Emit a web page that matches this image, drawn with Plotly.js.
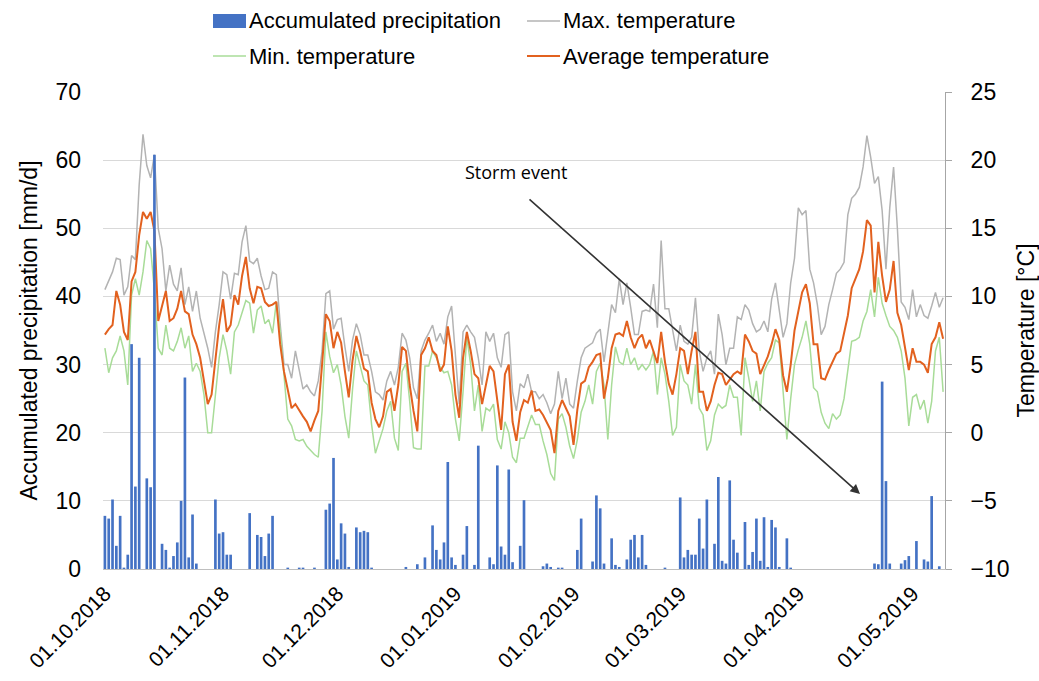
<!DOCTYPE html>
<html>
<head>
<meta charset="utf-8">
<script src="https://cdn.plot.ly/plotly-3.0.1.min.js"></script>
<style>html,body{margin:0;padding:0;background:#fff;}#chart{width:1039px;height:681px;}</style>
</head>
<body>
<div id="chart"></div>
<script>
// Daily series starting 01.10.2018
const startDate = '2018-10-01';

const precipitation = [
  7.8, 7.4, 10.2, 3.4, 7.8, 0.2, 2.1, 33, 12.1, 31,
  0, 13.3, 12, 60.8, 0, 3.7, 2.8, 0.2, 1.9, 3.9,
  10, 28.1, 1.7, 8, 0.8, 0, 0, 0, 0, 10.2,
  5.2, 5.4, 2.1, 2.1, 0, 0, 0, 0, 8.2, 0,
  5, 4.7, 1.9, 5.2, 7.8, 0, 0, 0, 0.2, 0,
  0, 0.2, 0.2, 0, 0, 0.2, 0, 0, 8.7, 9.6,
  16.3, 1.4, 6.7, 5.2, 0.3, 0, 6.1, 5.4, 5.6, 5.4,
  0.2, 0, 0, 0, 0, 0, 0, 0, 0, 0.3,
  0, 0, 0.7, 0, 1.7, 0, 6.4, 2.8, 1.4, 3.9,
  15.7, 1.7, 0.6, 0, 2.1, 6.3, 0, 0.6, 18.1, 0,
  0, 1.7, 0.7, 15.2, 3.3, 2.1, 14.6, 1, 0, 3.4,
  10.1, 0, 0, 0, 0, 0.4, 0.8, 0.3, 0, 0.2,
  0.2, 0, 0, 0, 2.8, 7.4, 0, 0, 1.1, 10.8,
  8.9, 0.8, 0, 4.5, 0.6, 0.3, 0, 1.4, 4.3, 5,
  1.7, 5, 0.6, 0, 0, 0, 0, 0.2, 0, 0,
  0, 10.5, 1.7, 2.8, 2.1, 2.1, 7.4, 3, 10.2, 0,
  3.7, 13.5, 1.2, 0.8, 13, 4.3, 2.4, 0, 6.9, 0.6,
  2.5, 7.4, 1.2, 7.6, 0.3, 7.2, 6.1, 0.3, 0, 4.5,
  0.2, 0, 0, 0, 0, 0, 0, 0, 0, 0,
  0, 0, 0, 0, 0, 0, 0, 0, 0, 0,
  0, 0, 0.8, 0.7, 27.5, 12.9, 0.8, 0, 0, 0.8,
  1.3, 1.9, 0, 4.1, 0, 1.4, 1.1, 10.7, 0, 0.4,
  0
];

const maxTemperature = [
  10.5, 11.1, 11.8, 12.8, 12.7, 10.1, 10.7, 13, 12.7, 18.2,
  21.9, 19.6, 18.7, 20.4, 15, 13.5, 10.4, 12.3, 10.9, 10.4,
  12.1, 9.4, 10.7, 8.9, 10.4, 8.4, 7.4, 6.2, 4.8, 7.4,
  9.4, 11.8, 11.6, 9.8, 11.7, 11.6, 14, 15.2, 12.6, 12.4,
  12.8, 11.5, 10.5, 10.6, 11.8, 11.6, 8, 5, 5, 4,
  6, 4.5, 3.2, 3.5, 3, 2.7, 3.8, 6, 10.2, 10.4,
  7.6, 8.3, 8.4, 6.3, 4.5, 6.8, 8, 7.2, 5.7, 5.7,
  4.5, 3, 2.8, 2.4, 3.8, 4.5, 3.5, 4.8, 7.3, 6.8,
  5.5, 3.3, 2.5, 6, 6.8, 7.3, 7.9, 6.7, 7.3, 6.5,
  8.5, 9.3, 5.5, 2.1, 7.4, 7.9, 7.4, 7, 5.5, 3.5,
  7.4, 6.7, 7.3, 5.5, 4.8, 7.2, 7.4, 3, 1.6, 3.6,
  3.3, 4.3, 3, 3, 2.5, 2.8, 2.2, 1.4, 2.1, 4.5,
  2.5, 4, 2.1, 1.8, 3.8, 5.5, 6.2, 6.4, 6.6, 7.3,
  7.6, 5.2, 7.2, 9.4, 8.8, 11.3, 9.4, 11, 9.2, 7.2,
  7.2, 8.9, 9, 8.9, 10.9, 7.7, 14.1, 9.1, 9.1, 7.6,
  6, 7.9, 6.7, 6.5, 7, 9.9, 6, 4.5, 5.5, 6,
  4.3, 8.7, 7.2, 5, 6.2, 6.2, 8.5, 8.3, 9.4, 9,
  8, 7.4, 7.6, 8.2, 7.4, 9.8, 11, 9, 7, 8,
  11, 12.8, 16.5, 16, 16.3, 12, 11, 9.4, 7.2, 7.8,
  9.4, 10.5, 11.7, 12, 12.5, 16, 17.2, 17.5, 18, 19.5,
  21.8, 20.2, 18.3, 18.8, 16.3, 12, 16.5, 19.5, 15, 9.6,
  9.2, 8.3, 10.5, 8.5, 9.4, 8.6, 8.4, 9.3, 10.3, 9.2,
  9.9
];

const minTemperature = [
  6.2, 4.4, 5.5, 6, 7.1, 6, 3.5, 10.1, 11.3, 10.1,
  11.8, 14.1, 13.5, 10.4, 6.2, 5.7, 7.9, 6.2, 6, 6.7,
  7.7, 6.2, 7.1, 4.5, 5.1, 4.5, 2.8, 0, 0, 2.6,
  5.5, 7.2, 6, 4.3, 7.4, 7.9, 8.9, 9.7, 9.5, 7.3,
  9, 9.3, 8, 8.3, 7.3, 9.6, 7.5, 4, 1, 0.5,
  -0.5, -0.6, -0.5, -1, -1.3, -1.6, -1.8, 1.6, 7.4, 5.6,
  4.4, 5, 3.5, 1.2, -0.4, 3.2, 6, 4.8, 3.8, 3.5,
  0.6, -1.5, -0.6, 0.3, 1.6, 2.3, -0.4, -1.3, 4.5, 5.1,
  2.3, -1.1, -1.2, -1.2, 4.9, 4.9, 6, 5.5, 4.8, 4.4,
  4.5, 3.5, 1, -0.6, 3, 7, 5, 1.6, 3.5, 0.1,
  1.8, 1.6, 2.1, -0.5, -1.2, 0.8, 0, -1.8, -2.2, -0.4,
  -0.4, 0.4, 1.3, 0.6, 0.6, -0.6, -1.6, -3, -3.5, 1,
  1.4, 0.4, -1, -1.9, -0.5, 1.5, 2.3, 3.5, 2.1, 4.5,
  5.1, 3.5, -0.5, 3.5, 6.3, 5.2, 5, 6.2, 5, 5.5,
  4.6, 5, 4.6, 5, 6, 2.8, 5.5, 4.3, 2.3, -0.2,
  0.4, 5, 3.8, 3.5, 2.1, 5, 1.8, 1.3, -1.3, -0.6,
  1.3, 2.1, 1.8, 2, 3.5, 2.6, 2.6, -0.2, 5.5, 4,
  2.3, 3.8, 1.6, 4.5, 5.1, 5.5, 6.8, 6.6, 3, -0.5,
  2.5, 5, 6.1, 7, 8.2, 6.5, 3.3, 3, 1.5, 0.7,
  0.3, 1.4, 1, 1.3, 2.5, 4.5, 6.7, 6.8, 7, 8.2,
  8.9, 10.5, 8.5, 11.4, 9.5, 8.6, 7.8, 7.5, 7, 6,
  4, 0.5, 2.6, 2.8, 1.7, 2.4, 0.7, 2.3, 6, 7,
  3
];

const avgTemperature = [
  7.2, 7.6, 7.9, 10.4, 9.4, 7.4, 6.8, 11.1, 11.8, 14.5,
  16.2, 15.7, 16.2, 14.8, 8.2, 9.4, 10.4, 8.2, 8.4, 9.1,
  10.4, 8.9, 8.7, 7.2, 6.5, 5.5, 3.8, 2.1, 2.8, 5.5,
  7.9, 9.8, 7.4, 7.9, 10.1, 9.4, 11.5, 12.9, 10.6, 9.5,
  10.7, 10.6, 9.6, 9.3, 9.4, 9.6, 6.5, 4.5, 3, 1.8,
  2.1, 1.6, 1.2, 0.8, 0.1, 0.9, 1.6, 5, 8.7, 8.2,
  6.2, 7.4, 6.6, 4.5, 2.6, 5.3, 7.1, 6, 4.7, 4.5,
  2.2, 1, 0.4, 1.2, 3, 3.2, 1.6, 3.5, 6.3, 6,
  3.5, 1.6, 0.1, 5.7, 6.2, 7, 6, 5.7, 4.5, 5,
  7.8, 6, 2.8, 1.1, 5.5, 7.4, 6, 4.3, 4, 2.1,
  3.5, 4.9, 4.5, 2.2, 0.2, 4.3, 5, 0.8, -0.6, 1.5,
  2.4, 2.2, 3.1, 1.6, 1.7, 1.3, 0.8, 0.2, -1.5, 1.6,
  2.4, 1.8, 1.2, -0.9, 1.7, 3.6, 3.8, 4.8, 5.2, 5.7,
  5.8, 2.5, 4, 6.2, 7.2, 7.3, 7.1, 8.2, 7, 6.2,
  6.9, 7.2, 6.2, 6.8, 6, 5.1, 7.4, 5.2, 3.6, 2.8,
  4.3, 6.2, 6, 4.3, 6, 7.4, 3, 3, 1.6, 2.3,
  3.5, 4.4, 4.3, 3.5, 3.9, 4.3, 4.5, 4.3, 7.2, 6.7,
  6, 5.8, 4.3, 5, 5.6, 6.5, 7.6, 6.8, 4.2, 3,
  5, 7.5, 9, 10.3, 10.9, 9.5, 6.5, 6.5, 4, 3.9,
  4.6, 5.2, 5.8, 6, 7.2, 8.6, 10.6, 11.3, 12, 13.3,
  15.6, 15.2, 10.3, 14, 11.5, 9.6, 10.5, 12.6, 8.8, 7.9,
  6.3, 4.6, 6.2, 5.2, 5.2, 5, 4.4, 6.5, 7, 8.1,
  6.9
];

const tickDates = ['2018-10-01','2018-11-01','2018-12-01','2019-01-01','2019-02-01','2019-03-01','2019-04-01','2019-05-01'];
const tickLabels = ['01.10.2018','01.11.2018','01.12.2018','01.01.2019','01.02.2019','01.03.2019','01.04.2019','01.05.2019'];

const seriesNames = ['Accumulated precipitation','Max. temperature','Min. temperature','Average temperature'];
const seriesColors = ['#4472C4', '#b3b3b3', '#a8dc98', '#e2611f'];

// build consecutive day categories from the start date
const dates = [];
const t0 = Date.parse(startDate + 'T00:00:00Z');
for (let i = 0; i < precipitation.length; i++) {
  dates.push(new Date(t0 + i * 86400000).toISOString().slice(0, 10));
}

const FONT = 'Liberation Sans, Arial, sans-serif';
const FS = 23;

const traces = [
  {
    type: 'bar', name: seriesNames[0], x: dates, y: precipitation, yaxis: 'y2',
    marker: {color: seriesColors[0]}
  },
  {
    type: 'scatter', mode: 'lines', name: seriesNames[1], x: dates, y: maxTemperature, yaxis: 'y',
    line: {color: seriesColors[1], width: 1.5}
  },
  {
    type: 'scatter', mode: 'lines', name: seriesNames[2], x: dates, y: minTemperature, yaxis: 'y',
    line: {color: seriesColors[2], width: 1.5}
  },
  {
    type: 'scatter', mode: 'lines', name: seriesNames[3], x: dates, y: avgTemperature, yaxis: 'y',
    line: {color: seriesColors[3], width: 2}
  }
];

// legend drawn as paper-anchored shapes + text (two columns, two rows like the original)
const PX0 = 103, PW = 842, PY0 = 569, PH = 477;
const px = v => (v - PX0) / PW;
const py = v => (PY0 - v) / PH;
const legendItems = [
  {name: seriesNames[0], color: seriesColors[0], kind: 'rect', x: 213, y: 21, w: 2},
  {name: seriesNames[1], color: seriesColors[1], kind: 'line', x: 527, y: 21, w: 1.5},
  {name: seriesNames[2], color: seriesColors[2], kind: 'line', x: 213, y: 56, w: 1.5},
  {name: seriesNames[3], color: seriesColors[3], kind: 'line', x: 527, y: 56, w: 2}
];
const shapes = [];
const annotations = [];
legendItems.forEach(it => {
  if (it.kind === 'rect') {
    shapes.push({type: 'rect', xref: 'paper', yref: 'paper', x0: px(it.x), x1: px(it.x + 33),
      y0: py(it.y + 7), y1: py(it.y - 7), fillcolor: it.color, line: {width: 0}});
  } else {
    shapes.push({type: 'line', xref: 'paper', yref: 'paper', x0: px(it.x), x1: px(it.x + 33),
      y0: py(it.y), y1: py(it.y), line: {color: it.color, width: it.w}});
  }
  annotations.push({xref: 'paper', yref: 'paper', x: px(it.x + 34), y: py(it.y), xanchor: 'left', yanchor: 'middle',
    text: it.name, showarrow: false, font: {family: FONT, size: 22, color: '#000'}});
});

annotations.push(
  {
    xref: 'paper', yref: 'paper', x: px(515.5), y: py(172), xanchor: 'center', yanchor: 'middle',
    text: 'Storm event', showarrow: false,
    font: {family: 'Open Sans, sans-serif', size: 18, color: '#000'}
  },
  {
    xref: 'paper', yref: 'paper', x: px(860), y: py(494),
    text: '', showarrow: true, axref: 'pixel', ayref: 'pixel', ax: -332, ay: -296,
    arrowhead: 2, arrowsize: 1.2, arrowwidth: 1.6, arrowcolor: '#333333', standoff: 0, startstandoff: 0
  }
);

const layout = {
  width: 1039, height: 681,
  margin: {l: 103, r: 94, t: 92, b: 112, pad: 0},
  paper_bgcolor: '#ffffff', plot_bgcolor: '#ffffff',
  font: {family: FONT, color: '#000000', size: FS},
  bargap: 0.3,
  showlegend: false,
  xaxis: {
    type: 'date',
    range: ['2018-09-30 12:00', '2019-05-09 12:00'],
    tickmode: 'array', tickvals: tickDates, ticktext: tickLabels,
    tickangle: -45, tickfont: {family: FONT, size: 21, color: '#000'},
    ticklabelstandoff: 3,
    showgrid: false, zeroline: false,
    showline: true, linecolor: '#bfbfbf', linewidth: 1,
    ticks: '', fixedrange: true, automargin: false
  },
  yaxis: {
    side: 'right', range: [-10, 25], dtick: 5, tick0: -10,
    showgrid: true, gridcolor: '#d9d9d9', gridwidth: 1,
    zeroline: false, showline: true, linecolor: '#a6a6a6', linewidth: 1,
    ticks: 'outside', ticklen: 6, tickcolor: '#a6a6a6', ticklabelstandoff: 14,
    tickfont: {family: FONT, size: FS, color: '#000'}, automargin: false,
    title: {text: 'Temperature [°C]', font: {family: FONT, size: FS, color: '#000'}, standoff: 9}
  },
  yaxis2: {
    overlaying: 'y', side: 'left', range: [0, 70], dtick: 10, tick0: 0,
    showgrid: false, zeroline: false, showline: false,
    ticks: '', ticklabelstandoff: 21, automargin: false,
    tickfont: {family: FONT, size: FS, color: '#000'},
    title: {text: 'Accumulated precipitation [mm/d]', font: {family: FONT, size: FS, color: '#000'}, standoff: 11}
  },
  shapes: shapes,
  annotations: annotations
};

Plotly.newPlot('chart', traces, layout, {staticPlot: true, displayModeBar: false});
</script>
</body>
</html>
